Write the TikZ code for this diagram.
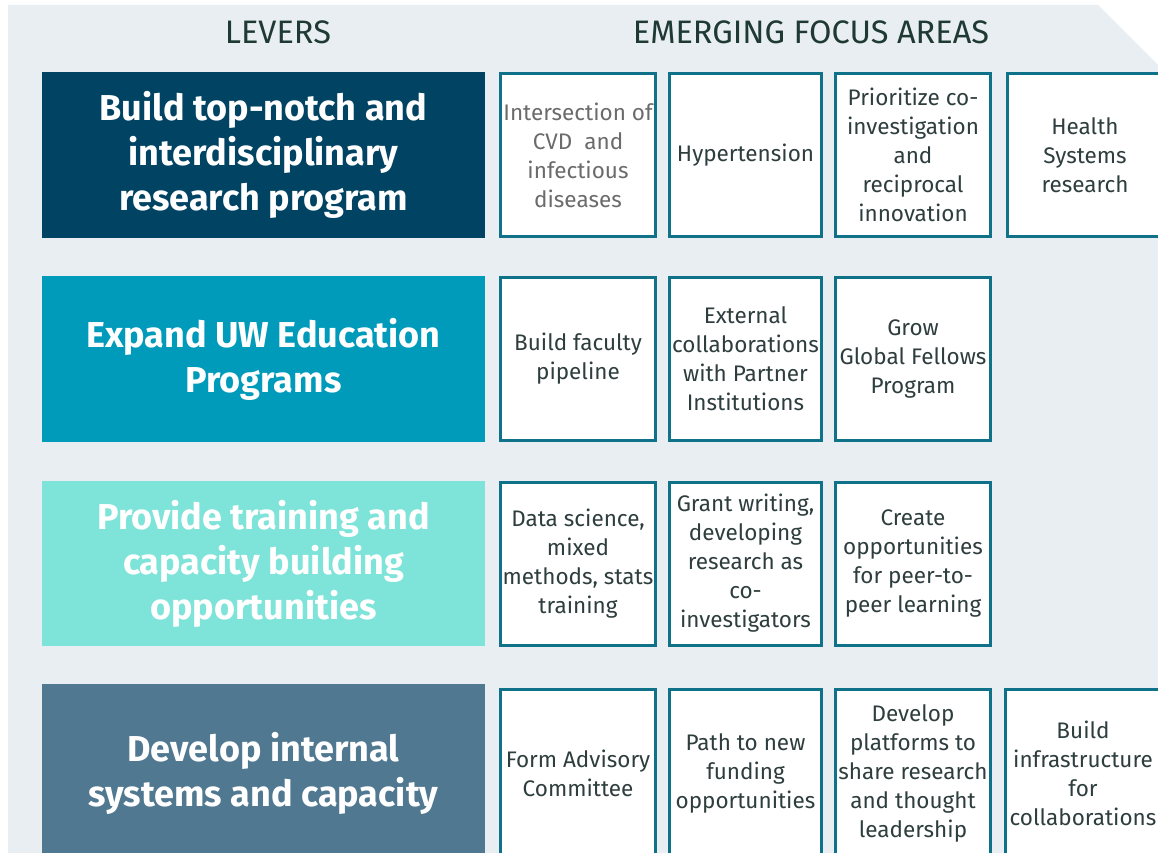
\documentclass[tikz,border=0pt]{standalone}
\usepackage{fontspec}
\setmainfont{Fira Sans}
\usepackage{tikz}
\usetikzlibrary{positioning}

\definecolor{panelbg}{HTML}{E9EEF2}
\definecolor{leverA}{HTML}{004363}
\definecolor{leverB}{HTML}{009ABA}
\definecolor{leverC}{HTML}{7EE3D8}
\definecolor{leverD}{HTML}{507890}
\definecolor{areaedge}{HTML}{0F7289}
\definecolor{areatext}{HTML}{2E3D3D}
\definecolor{headtext}{HTML}{1F3A33}

\begin{document}
\begin{tikzpicture}[x=1pt,y=-1pt,
  lever/.style={inner sep=0pt,minimum width=443pt,align=center,text=white,
    font=\fontsize{36}{45}\selectfont\bfseries},
  area/.style={draw=areaedge,line width=3pt,fill=white,inner sep=0pt,
    minimum width=155pt,minimum height=163pt,align=center,text=areatext,
    font=\fontsize{22.5}{29}\selectfont},
  head/.style={text=headtext,font=\fontsize{32.5}{38}\selectfont}]
  \useasboundingbox (0,0) rectangle (1158,853);
  % background panel with cut corner
  \fill[panelbg] (8,5) -- (1098,5) -- (1158,65) -- (1158,853) -- (8,853) -- cycle;
  \node[head] (levers) at (278,32) {LEVERS};
  \node[head] (focus) at (811,32) {EMERGING FOCUS AREAS};
  % levers
  \node[lever,fill=leverA,minimum height=166pt] (lever1) at (263.5,155) {Build top-notch and\\interdisciplinary\\research program};
  \node[lever,fill=leverB,minimum height=166pt] (lever2) at (263.5,359) {Expand UW Education\\Programs};
  \node[lever,fill=leverC,minimum height=165pt] (lever3) at (263.5,563.5) {Provide training and\\capacity building\\opportunities};
  \node[lever,fill=leverD,minimum height=178pt] (lever4) at (263.5,773) {Develop internal\\systems and capacity};
  % focus areas, row 1
  \node[area,text=black!58] (area11) at (578,155) {Intersection of\\CVD~ and\\infectious\\diseases};
  \node[area,minimum width=152pt] (area12) at (745.5,155) {Hypertension};
  \node[area] (area13) at (913,155) {Prioritize co-\\investigation\\and\\reciprocal\\innovation};
  \node[area] (area14) at (1085,155) {Health\\Systems\\research};
  % row 2
  \node[area] (area21) at (578,359) {Build faculty\\pipeline};
  \node[area,minimum width=152pt] (area22) at (745.5,359) {External\\collaborations\\with Partner\\Institutions};
  \node[area] (area23) at (913,359) {Grow\\Global Fellows\\Program};
  % row 3
  \node[area] (area31) at (578,563.5) {Data science,\\mixed\\methods, stats\\training};
  \node[area,minimum width=152pt] (area32) at (745.5,563.5) {Grant writing,\\developing\\research as\\co-\\investigators};
  \node[area] (area33) at (913,563.5) {Create\\opportunities\\for peer-to-\\peer learning};
  % row 4
  \node[area,minimum height=167pt] (area41) at (578,773) {Form Advisory\\Committee};
  \node[area,minimum width=152pt,minimum height=167pt] (area42) at (745.5,773) {Path to new\\funding\\opportunities};
  \node[area,minimum height=167pt] (area43) at (913,773) {Develop\\platforms to\\share research\\and thought\\leadership};
  \node[area,minimum height=167pt] (area44) at (1083,773) {Build\\infrastructure\\for\\collaborations};
\end{tikzpicture}
\end{document}
